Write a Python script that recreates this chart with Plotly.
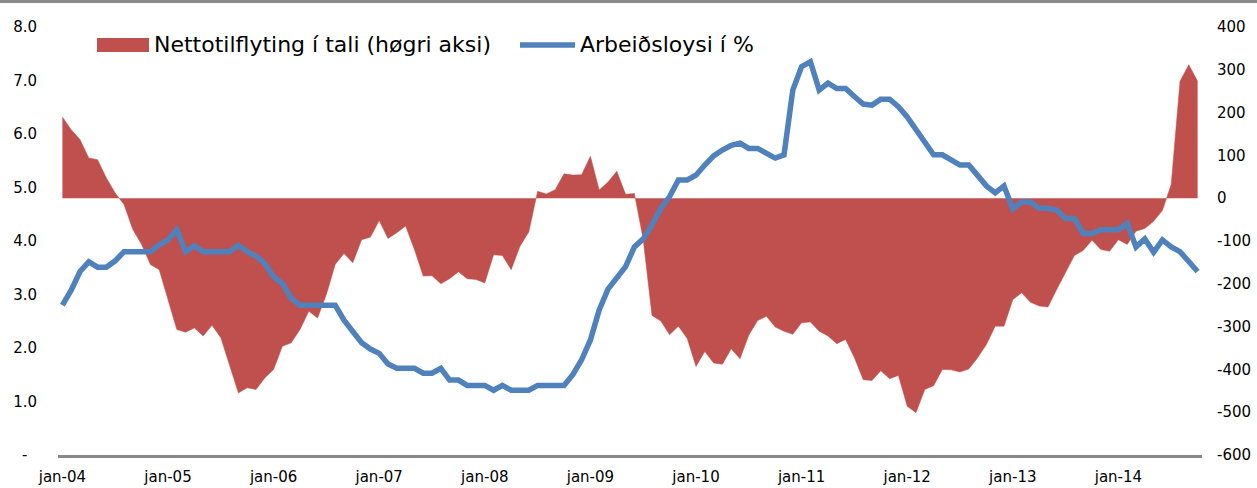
import plotly.graph_objects as go

# ---- data (monthly, jan-04 .. oct-14) ----
months = list(range(130))
tick_pos = [0, 12, 24, 36, 48, 60, 72, 84, 96, 108, 120]
tick_labels = ["jan-04", "jan-05", "jan-06", "jan-07", "jan-08", "jan-09",
               "jan-10", "jan-11", "jan-12", "jan-13", "jan-14"]

unemployment = [
    2.80, 3.08, 3.43, 3.61, 3.51, 3.51, 3.63, 3.80, 3.80, 3.80,
    3.80, 3.93, 4.02, 4.21, 3.80, 3.91, 3.80, 3.80, 3.80, 3.80,
    3.92, 3.80, 3.72, 3.58, 3.33, 3.21, 2.93, 2.80, 2.80, 2.80,
    2.80, 2.80, 2.52, 2.31, 2.10, 1.98, 1.90, 1.70, 1.62, 1.62,
    1.62, 1.53, 1.53, 1.62, 1.40, 1.40, 1.30, 1.30, 1.30, 1.21,
    1.30, 1.21, 1.21, 1.21, 1.30, 1.30, 1.30, 1.30, 1.50, 1.78,
    2.15, 2.71, 3.10, 3.30, 3.52, 3.89, 4.04, 4.30, 4.61, 4.83,
    5.14, 5.14, 5.23, 5.42, 5.59, 5.70, 5.79, 5.83, 5.73, 5.73,
    5.64, 5.55, 5.61, 6.82, 7.26, 7.35, 6.82, 6.95, 6.85, 6.85,
    6.70, 6.56, 6.54, 6.65, 6.65, 6.51, 6.32, 6.07, 5.83, 5.61,
    5.61, 5.51, 5.42, 5.42, 5.23, 5.03, 4.90, 5.03, 4.60, 4.73,
    4.73, 4.61, 4.61, 4.58, 4.42, 4.42, 4.14, 4.14, 4.21, 4.21,
    4.21, 4.33, 3.89, 4.04, 3.79, 4.02, 3.89, 3.80, 3.61, 3.43,
]

net_migration = [
    190, 160, 137, 94, 90, 47, 12, -15, -73, -108,
    -155, -167, -237, -307, -313, -303, -322, -297, -326, -392,
    -455, -443, -447, -420, -400, -346, -338, -307, -264, -280,
    -225, -155, -129, -151, -97, -91, -52, -94, -81, -65,
    -120, -182, -181, -200, -188, -172, -188, -190, -198, -132,
    -134, -167, -112, -79, 16, 10, 20, 57, 54, 55,
    98, 19, 38, 63, 9, 11, -96, -274, -287, -319,
    -299, -328, -393, -358, -385, -388, -352, -375, -320, -286,
    -276, -301, -311, -318, -291, -289, -311, -322, -340, -330,
    -373, -424, -426, -403, -422, -414, -486, -501, -447, -438,
    -400, -401, -406, -399, -373, -342, -299, -299, -237, -221,
    -243, -252, -254, -213, -174, -134, -122, -98, -120, -124,
    -97, -108, -77, -71, -54, -29, 32, 273, 312, 273,
]

left_ticks = [0, 1, 2, 3, 4, 5, 6, 7, 8]
left_labels = ["-\u00a0\u00a0", "1.0", "2.0", "3.0", "4.0", "5.0", "6.0", "7.0", "8.0"]
right_ticks = [-600, -500, -400, -300, -200, -100, 0, 100, 200, 300, 400]
right_labels = ["-600", "-500", "-400", "-300", "-200", "-100", "0", "100", "200", "300", "400"]

name_area = "Nettotilflyting í tali (høgri aksi)"
name_line = "Arbeiðsloysi í %"

RED = "#C0504D"
BLUE = "#4F81BD"
FONT = "DejaVu Sans, Verdana, sans-serif"

W, H = 1257, 488
L, R, T, B = 58, 55, 27, 33
PW, PH = W - L - R, H - T - B


def px(xp):
    return (xp - L) / PW


def py(yp):
    return (H - B - yp) / PH


fig = go.Figure()
# area on the primary (right-side) axis so the line overlays it
fig.add_trace(go.Scatter(
    x=months, y=net_migration, name=name_area, yaxis="y",
    mode="lines", fill="tozeroy", fillcolor=RED,
    line=dict(color=RED, width=0.5), showlegend=False,
))
fig.add_trace(go.Scatter(
    x=months, y=unemployment, name=name_line, yaxis="y2",
    mode="lines", line=dict(color=BLUE, width=5.5), showlegend=False,
))

shapes = [
    dict(type="line", xref="x", yref="y", x0=months[0], x1=months[-1], y0=0, y1=0,
         line=dict(color="rgba(255,255,255,0.45)", width=1), layer="below"),
    dict(type="rect", xref="paper", yref="paper", x0=px(97), x1=px(149), y0=py(52), y1=py(38),
         fillcolor=RED, line=dict(width=0)),
    dict(type="line", xref="paper", yref="paper", x0=px(520), x1=px(575), y0=py(45), y1=py(45),
         line=dict(color=BLUE, width=5.5)),
    dict(type="line", xref="paper", yref="paper", x0=px(0), x1=px(W), y0=py(1.5), y1=py(1.5),
         line=dict(color="#8a8a8a", width=3)),
]

annotations = [
    dict(text=name_area, xref="paper", yref="paper", x=px(152), y=py(45),
         xanchor="left", yanchor="middle", showarrow=False,
         font=dict(family=FONT, size=22, color="#000000")),
    dict(text=name_line, xref="paper", yref="paper", x=px(578), y=py(45),
         xanchor="left", yanchor="middle", showarrow=False,
         font=dict(family=FONT, size=22, color="#000000")),
]

fig.update_layout(
    width=W, height=H,
    margin=dict(l=L, r=R, t=T, b=B, pad=0, autoexpand=False),
    paper_bgcolor="white", plot_bgcolor="white",
    font=dict(family=FONT, size=15, color="#000000"),
    showlegend=False,
    shapes=shapes,
    annotations=annotations,
    xaxis=dict(
        range=[-0.5, 129.5], tickmode="array", tickvals=tick_pos, ticktext=tick_labels,
        showgrid=False, zeroline=False, showline=True, linecolor="#898989", linewidth=3,
        ticks="", ticklabelstandoff=6, tickfont=dict(size=15), automargin=False,
    ),
    yaxis=dict(
        range=[-600, 400], tickmode="array", tickvals=right_ticks, ticktext=right_labels,
        side="right", showgrid=False, zeroline=False, showline=False,
        ticks="", ticklabelstandoff=14, tickfont=dict(size=15), automargin=False,
    ),
    yaxis2=dict(
        range=[0, 8], tickmode="array", tickvals=left_ticks, ticktext=left_labels,
        overlaying="y", side="left", showgrid=False, zeroline=False, showline=False,
        ticks="", ticklabelstandoff=20, tickfont=dict(size=15), automargin=False,
    ),
)

fig.write_html(
    "out.html",
    config={"displayModeBar": False},
    post_script="document.body.style.margin='0';document.body.style.overflow='hidden';",
)
